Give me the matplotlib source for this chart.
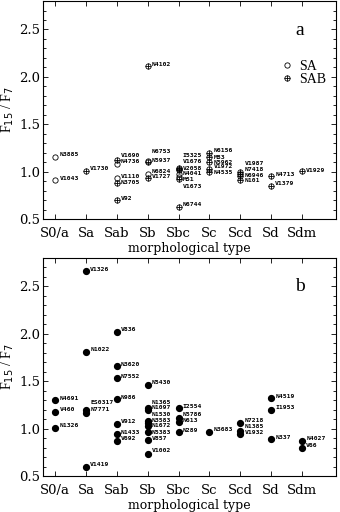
import matplotlib
matplotlib.use('Agg')
import matplotlib.pyplot as plt
from matplotlib.ticker import MultipleLocator
from matplotlib.legend_handler import HandlerTuple

types = ['S0/a', 'Sa', 'Sab', 'Sb', 'Sbc', 'Sc', 'Scd', 'Sd', 'Sdm']

# panel a: SA / SAB galaxies
a_names = ['N3885', 'V1043', 'V1730', 'V1690', 'N4736', 'V1110', 'N3705', 'V92',
           'N4102', 'N6753', 'N5937', 'N6824', 'V1727',
           'I5325', 'V1676', 'V2058', 'N4041', 'M51', 'V1673', 'N6744',
           'N6156', 'M83', 'N5962', 'V1972', 'N4535',
           'V1987', 'N7418', 'N6946', 'N101', 'N4713', 'V1379', 'V1929']
a_type = [0, 0, 1, 2, 2, 2, 2, 2,
          3, 3, 3, 3, 3,
          4, 4, 4, 4, 4, 4, 4,
          5, 5, 5, 5, 5,
          6, 6, 6, 6, 7, 7, 8]
a_ratio = [1.16, 0.91, 1.01, 1.12, 1.08, 0.93, 0.885, 0.70,
           2.11, 1.11, 1.10, 0.98, 0.93,
           1.04, 1.02, 1.03, 0.98, 0.94, 0.92, 0.63,
           1.20, 1.15, 1.10, 1.03, 1.00,
           1.00, 0.98, 0.95, 0.91, 0.95, 0.85, 1.01]
a_bar = ['SA', 'SA', 'SAB', 'SAB', 'SA', 'SA', 'SAB', 'SAB',
         'SAB', 'SA', 'SAB', 'SA', 'SAB',
         'SAB', 'SAB', 'SAB', 'SA', 'SA', 'SAB', 'SAB',
         'SAB', 'SAB', 'SAB', 'SAB', 'SAB',
         'SAB', 'SAB', 'SAB', 'SAB', 'SAB', 'SAB', 'SAB']

# panel b: SB galaxies
b_names = ['N4691', 'V460', 'N1326', 'V1326', 'N1022', 'ES0317', 'N7771', 'V1419',
           'V836', 'N3620', 'N7552', 'N986', 'V912', 'N1433', 'V692',
           'N5430', 'N1365', 'N1097', 'N1530', 'N3583', 'N1672', 'N5383', 'V857', 'V1002',
           'I2554', 'N5786', 'N613', 'N289', 'N3683',
           'N7218', 'N1385', 'V1932', 'N4519', 'I1953', 'N337', 'N4027', 'V66']
b_type = [0, 0, 0, 1, 1, 1, 1, 1,
          2, 2, 2, 2, 2, 2, 2,
          3, 3, 3, 3, 3, 3, 3, 3, 3,
          4, 4, 4, 4, 5,
          6, 6, 6, 7, 7, 7, 8, 8]
b_ratio = [1.30, 1.18, 1.01, 2.66, 1.81, 1.20, 1.165, 0.60,
           2.02, 1.66, 1.53, 1.31, 1.05, 0.94, 0.87,
           1.46, 1.22, 1.20, 1.08, 1.06, 1.03, 0.96, 0.88, 0.73,
           1.22, 1.11, 1.07, 0.96, 0.965,
           1.06, 0.97, 0.94, 1.32, 1.20, 0.89, 0.87, 0.80]

# vertical label shifts (pixels, up) where names crowd
nudge = {'V1690': 4.7, 'N4736': 2.7, 'N3705': 0.6, 'N6753': 10, 'N5937': 1.7,
         'I5325': 12.5, 'V1676': 8, 'V2058': 0.5, 'N4041': 0, 'M51': -2,
         'V1673': -6.7, 'M83': 0, 'N5962': 0, 'N4535': -1, 'V1987': 8,
         'N7418': 4, 'N6946': 1.4, 'N101': -0.7, 'V1929': 0.7,
         'ES0317': 7.5, 'N7771': 3.5, 'N1365': 5.3, 'N1097': 2.3, 'N1530': 6.4,
         'N3583': 2.3, 'N1672': 0, 'N5383': 0, 'V857': 1, 'V1002': 3.7,
         'I2554': 1.6, 'N5786': 4, 'N613': 1.3, 'N1385': 5.2}

serif = 'DejaVu Serif'
times = 'Liberation Serif'


def label_points(ax, xs, ys, names):
    for x, y, n in zip(xs, ys, names):
        dy = nudge.get(n, 2.0) * 0.72
        ax.annotate(n, (x, y), xytext=(3, dy), textcoords='offset points',
                    ha='left', va='center', fontsize=4.6, fontweight='bold',
                    family='DejaVu Sans Mono')


def style(ax, letter):
    ax.set_xlim(-0.4, 9.1)
    ax.set_ylim(0.5, 2.8)
    ax.set_xticks(range(len(types)))
    ax.set_xticklabels(types, family=serif, fontsize=9.5)
    ax.yaxis.set_major_locator(MultipleLocator(0.5))
    ax.yaxis.set_minor_locator(MultipleLocator(0.1))
    ax.set_yticks([0.5, 1.0, 1.5, 2.0, 2.5])
    ax.set_yticklabels(['0.5', '1.0', '1.5', '2.0', '2.5'], family=serif, fontsize=9.5)
    ax.tick_params(which='both', direction='in', top=True, right=True, width=0.6)
    ax.tick_params(axis='x', which='major', length=3.5, pad=6)
    ax.tick_params(axis='y', which='major', length=3.5, pad=2)
    ax.tick_params(axis='y', which='minor', length=2)
    for s in ax.spines.values():
        s.set_linewidth(0.8)
    ax.set_xlabel('morphological type', family=serif, fontsize=9, labelpad=1)
    ax.set_ylabel(r'F$_{15}$ / F$_7$', family=times, fontsize=10, labelpad=2)
    ax.text(0.877, 0.867, letter, transform=ax.transAxes, family=times,
            fontsize=14, ha='center', va='center')


fig = plt.figure(figsize=(3.4, 5.12), dpi=100)
ax_a = fig.add_axes([0.126, 0.572, 0.862, 0.426])
ax_b = fig.add_axes([0.126, 0.0703, 0.862, 0.426])

# panel a
sa_x = [t for t, b in zip(a_type, a_bar) if b == 'SA']
sa_y = [r for r, b in zip(a_ratio, a_bar) if b == 'SA']
sab_x = [t for t, b in zip(a_type, a_bar) if b == 'SAB']
sab_y = [r for r, b in zip(a_ratio, a_bar) if b == 'SAB']
h_sa, = ax_a.plot(sa_x, sa_y, 'o', ms=3.8, mfc='none', mec='k', mew=0.6)
h_sab1, = ax_a.plot(sab_x, sab_y, 'o', ms=3.8, mfc='none', mec='k', mew=0.6)
h_sab2, = ax_a.plot(sab_x, sab_y, '+', ms=3.8, mec='k', mew=0.6)
label_points(ax_a, a_type, a_ratio, a_names)
style(ax_a, 'a')
leg = ax_a.legend([(h_sa,), (h_sab1, h_sab2)], ['SA', 'SAB'],
                  handler_map={tuple: HandlerTuple(ndivide=1, pad=0)},
                  loc='center left', bbox_to_anchor=(0.785, 0.669),
                  frameon=False, handlelength=1.0,
                  handletextpad=0.4, labelspacing=0.0, borderpad=0,
                  prop={'family': times, 'size': 10})

# panel b
ax_b.plot(b_type, b_ratio, 'o', ms=4.2, mfc='k', mec='k')
label_points(ax_b, b_type, b_ratio, b_names)
style(ax_b, 'b')

fig.savefig('out.png', dpi=100)
